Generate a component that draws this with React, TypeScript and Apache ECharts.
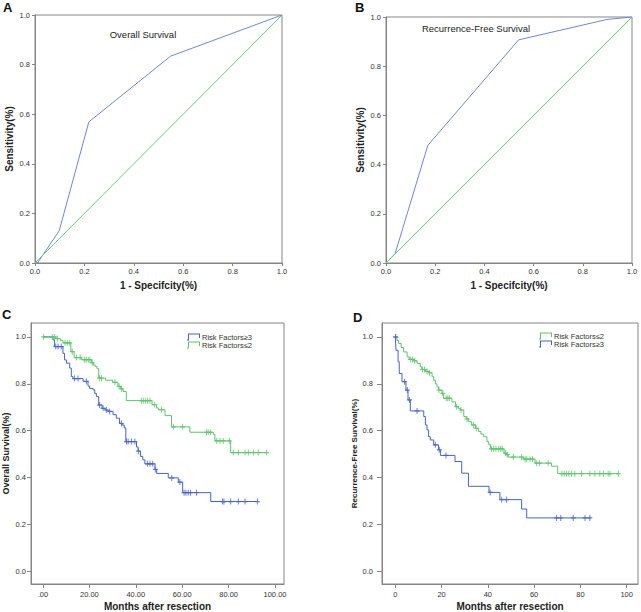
import React, { useEffect, useRef } from "react";
import * as echarts from "echarts";

// ROC curves
const rocOsFpr = [0, 0.01, 0.098, 0.218, 0.549, 1];
const rocOsTpr = [0, 0, 0.13, 0.569, 0.834, 1];
const rocRfsFpr = [0, 0.037, 0.17, 0.539, 0.898, 1];
const rocRfsTpr = [0, 0.038, 0.478, 0.907, 0.99, 1];
const refFpr = [0, 1];
const refTpr = [0, 1];
const rocTicks = [0, 0.2, 0.4, 0.6, 0.8, 1.0];

// Overall survival, Risk Factors>=3
const osHighT = [0, 4.3, 5.0, 8.6, 9.3, 10.1, 11.5, 12.2, 12.9, 17.3, 19.4, 20.1, 21.6, 22.3, 23.0, 24.0, 25.5, 26.8, 28.0, 30.2, 31.6, 33.0, 34.0, 35.0, 35.7, 40.3, 41.0, 42.0, 43.0, 43.9, 48.3, 49.0, 54.0, 58.3, 60.2, 72.3];
const osHighS = [1.0, 0.987, 0.959, 0.93, 0.902, 0.888, 0.867, 0.831, 0.822, 0.81, 0.79, 0.78, 0.774, 0.759, 0.745, 0.709, 0.695, 0.688, 0.682, 0.668, 0.653, 0.631, 0.624, 0.611, 0.553, 0.53, 0.512, 0.49, 0.475, 0.458, 0.434, 0.417, 0.398, 0.38, 0.335, 0.297];
const osHighEnd = 92.4;
const osHighCens = [5.5, 6.5, 7.9, 13.6, 15.1, 18.7, 24.4, 25.9, 27.3, 28.7, 33.8, 36.0, 36.7, 38.1, 39.6, 41.1, 45.0, 46.1, 47.3, 48.4, 55.5, 59.0, 60.8, 61.6, 62.6, 63.6, 66.2, 77.4, 78.0, 80.9, 84.2, 87.1, 92.4];

// Overall survival, Risk Factors<=2
const osLowT = [0, 5.5, 7.5, 8.6, 12.0, 13.4, 16.5, 20.8, 21.7, 22.5, 23.2, 24.0, 27.0, 30.0, 32.3, 33.5, 34.5, 35.9, 47.0, 48.9, 49.7, 52.6, 55.4, 63.3, 73.4, 74.1, 80.9];
const osLowS = [1.0, 0.993, 0.985, 0.975, 0.937, 0.912, 0.903, 0.89, 0.88, 0.874, 0.866, 0.824, 0.815, 0.806, 0.789, 0.778, 0.767, 0.728, 0.711, 0.697, 0.689, 0.664, 0.616, 0.593, 0.583, 0.556, 0.506];
const osLowEnd = 96.4;
const osLowCens = [0.2, 4.0, 5.0, 6.2, 9.5, 10.5, 11.5, 12.6, 14.4, 16.0, 17.8, 18.6, 19.5, 20.2, 21.2, 24.4, 25.2, 31.0, 32.8, 33.8, 42.4, 43.2, 44.1, 45.1, 46.1, 48.0, 51.1, 56.2, 60.2, 70.5, 71.2, 72.2, 74.9, 76.3, 77.7, 80.3, 82.0, 84.2, 87.1, 88.5, 90.7, 92.8, 96.4];

// Recurrence-free survival, Risk Factors<=2
const rfsLowT = [0, 0.7, 1.45, 2.5, 3.6, 5.1, 6.0, 8.0, 9.4, 10.8, 11.5, 13.0, 14.4, 15.9, 16.6, 17.3, 18.0, 18.7, 20.2, 20.9, 24.5, 26.0, 27.2, 28.1, 29.6, 30.6, 31.7, 33.0, 34.6, 36.0, 37.0, 38.2, 39.6, 40.4, 41.1, 47.0, 48.1, 48.8, 55.3, 60.4, 67.5, 70.2];
const rfsLowS = [1.0, 0.985, 0.972, 0.955, 0.936, 0.915, 0.904, 0.898, 0.887, 0.872, 0.861, 0.853, 0.847, 0.83, 0.815, 0.8, 0.787, 0.773, 0.759, 0.738, 0.723, 0.702, 0.695, 0.688, 0.66, 0.65, 0.638, 0.624, 0.61, 0.596, 0.585, 0.574, 0.553, 0.54, 0.522, 0.504, 0.497, 0.487, 0.478, 0.461, 0.448, 0.416];
const rfsLowEnd = 96.4;
const rfsLowCens = [0.2, 6.5, 7.4, 8.4, 11.8, 12.6, 13.7, 14.8, 18.9, 20.5, 22.0, 22.7, 23.4, 26.5, 28.4, 31.0, 33.8, 35.0, 41.6, 42.5, 43.5, 44.7, 45.5, 46.2, 47.6, 48.4, 51.0, 54.6, 56.1, 56.8, 58.2, 59.3, 61.1, 62.3, 66.1, 72.0, 73.0, 74.0, 75.0, 76.2, 77.6, 80.5, 84.1, 86.3, 88.4, 89.9, 92.0, 92.8, 96.4];

// Recurrence-free survival, Risk Factors>=3
const rfsHighT = [0, 0.3, 1.2, 1.7, 2.9, 4.6, 5.5, 6.5, 12.3, 13.0, 13.7, 14.4, 15.1, 16.6, 18.7, 19.5, 25.8, 28.7, 31.6, 40.5, 45.2, 54.6, 56.8];
const rfsHighS = [1.0, 0.943, 0.894, 0.844, 0.809, 0.773, 0.731, 0.684, 0.66, 0.624, 0.603, 0.574, 0.56, 0.539, 0.518, 0.494, 0.468, 0.418, 0.362, 0.336, 0.305, 0.265, 0.227];
const rfsHighEnd = 84.5;
const rfsHighCens = [0.1, 4.0, 5.2, 6.1, 9.4, 17.3, 19.0, 21.9, 41.0, 46.0, 48.1, 69.7, 71.5, 76.9, 82.0, 84.1];

const monthTicks = [0, 20, 40, 60, 80, 100];
const survTicks = [0, 0.2, 0.4, 0.6, 0.8, 1.0];

const NAME_HIGH = "Risk Factors≥3";
const NAME_LOW = "Risk Factors≤2";

const BLUE_ROC = "#6f86d6";
const GREEN_ROC = "#6cc77a";
const BLUE = "#4563c9";
const GREEN = "#5ec36b";
const BOX = "#858585";
const FONT = "Liberation Sans, Arial, sans-serif";

const PLUS = "path://M4,0H6V4H10V6H6V10H4V6H0V4H4Z";
const LEG_ICON = "path://M0,12H2V0H26V9H24V2H4V14H0Z";

function pairs(xs: number[], ys: number[]) {
  return xs.map((x, i) => [x, ys[i]]);
}
function kmData(T: number[], S: number[], end: number) {
  return pairs(T, S).concat([[end, S[S.length - 1]]]);
}
function survAt(T: number[], S: number[], t: number) {
  let v = S[0];
  for (let i = 0; i < T.length; i++) if (T[i] <= t) v = S[i];
  return v;
}
function censData(T: number[], S: number[], C: number[]) {
  return C.map((t) => [t, survAt(T, S, t)]);
}

const tickLabel = { fontSize: 7.5, color: "#333", fontFamily: FONT };
const axisTitle = { fontSize: 10, fontWeight: "bold" as const, color: "#222", fontFamily: FONT };

function rocX(gi: number) {
  return {
    type: "value", gridIndex: gi, min: 0, max: 1, interval: 0.2,
    name: "1 - Specifcity(%)", nameLocation: "middle", nameGap: 17, nameTextStyle: axisTitle,
    axisLine: { show: true, onZero: false, lineStyle: { color: BOX, width: 1 } },
    axisTick: { show: true, length: 3, lineStyle: { color: BOX } },
    axisLabel: { ...tickLabel, margin: 4, formatter: (v: number) => v.toFixed(1) },
    splitLine: { show: false },
  };
}
function rocY(gi: number) {
  return {
    type: "value", gridIndex: gi, min: 0, max: 1, interval: 0.2,
    name: "Sensitivity(%)", nameLocation: "middle", nameGap: 21, nameTextStyle: axisTitle,
    axisLine: { show: true, onZero: false, lineStyle: { color: BOX, width: 1 } },
    axisTick: { show: true, length: 3, lineStyle: { color: BOX } },
    axisLabel: { ...tickLabel, margin: 5, formatter: (v: number) => v.toFixed(1) },
    splitLine: { show: false },
  };
}
function kmX(gi: number, min: number, max: number, fmt: (v: number) => string) {
  return {
    type: "value", gridIndex: gi, min, max,
    name: "Months after resection", nameLocation: "middle", nameGap: 17, nameTextStyle: axisTitle,
    axisLine: { show: true, onZero: false, lineStyle: { color: BOX, width: 1 } },
    axisTick: { show: true, length: 4, customValues: monthTicks, lineStyle: { color: BOX } },
    axisLabel: { ...tickLabel, margin: 6, customValues: monthTicks, formatter: fmt },
    splitLine: { show: false },
  };
}
function kmY(gi: number, name: string, gap: number, size: number, tickLen: number, margin: number) {
  return {
    type: "value", gridIndex: gi, min: -0.0553, max: 1.0596,
    name, nameLocation: "middle", nameGap: gap, nameTextStyle: { ...axisTitle, fontSize: size },
    axisLine: { show: true, onZero: false, lineStyle: { color: BOX, width: 1 } },
    axisTick: { show: true, length: tickLen, customValues: survTicks, lineStyle: { color: BOX } },
    axisLabel: { ...tickLabel, margin, customValues: survTicks, formatter: (v: number) => v.toFixed(1) },
    splitLine: { show: false },
  };
}

function lineSeries(name: string, data: number[][], gi: number, color: string, step?: string) {
  return {
    type: "line", name, data, xAxisIndex: gi, yAxisIndex: gi,
    showSymbol: false, symbol: "none", step: step || false,
    color, lineStyle: { color, width: 1 }, itemStyle: { color },
    z: 3,
  };
}
function censSeries(name: string, data: number[][], gi: number, color: string) {
  return {
    type: "scatter", name, data, xAxisIndex: gi, yAxisIndex: gi,
    symbol: PLUS, symbolSize: [5, 6], itemStyle: { color }, z: 4,
  };
}

function legendOf(left: number, top: number, names: string[]) {
  return {
    left, top, orient: "vertical", itemGap: 0, itemWidth: 13, itemHeight: 7,
    selectedMode: false,
    data: names.map((n) => ({ name: n, icon: LEG_ICON })),
    itemStyle: { borderWidth: 0 },
    textStyle: { fontSize: 7.5, color: "#333", fontFamily: FONT, lineHeight: 8, padding: [0, 0, 0, -3] },
  };
}

export default function App() {
  const ref = useRef<HTMLDivElement>(null);
  useEffect(() => {
    if (!ref.current) return;
    const chart = echarts.init(ref.current, null, { renderer: "svg" });
    const grids = [
      { left: 35, top: 15, width: 247, height: 248 },
      { left: 386, top: 17, width: 246, height: 246 },
      { left: 31, top: 323, width: 253, height: 262 },
      { left: 382, top: 323, width: 256, height: 262 },
    ].map((g) => ({ ...g, show: true, borderColor: BOX, borderWidth: 1, backgroundColor: "transparent" }));

    const option: any = {
      animation: false,
      backgroundColor: "#ffffff",
      textStyle: { fontFamily: FONT },
      grid: grids,
      xAxis: [
        rocX(0),
        rocX(1),
        kmX(2, -5.17, 103.88, (v: number) => (v === 0 ? ".00" : v.toFixed(2))),
        kmX(3, -5.75, 104.9, (v: number) => String(v)),
      ],
      yAxis: [
        rocY(0),
        rocY(1),
        kmY(2, "Overall Survival(%)", 21, 9, 4, 5),
        kmY(3, "Recurrence-Free Survival(%)", 19, 8, 5, 9),
      ],
      legend: [
        legendOf(182, 328, [NAME_HIGH, NAME_LOW]),
        legendOf(534, 327, [NAME_LOW, NAME_HIGH]),
      ],
      series: [
        lineSeries("ROC OS", pairs(rocOsFpr, rocOsTpr), 0, BLUE_ROC),
        lineSeries("Reference OS", pairs(refFpr, refTpr), 0, GREEN_ROC),
        lineSeries("ROC RFS", pairs(rocRfsFpr, rocRfsTpr), 1, BLUE_ROC),
        lineSeries("Reference RFS", pairs(refFpr, refTpr), 1, GREEN_ROC),
        lineSeries(NAME_HIGH, kmData(osHighT, osHighS, osHighEnd), 2, BLUE, "end"),
        censSeries("OS ≥3 censored", censData(osHighT, osHighS, osHighCens), 2, BLUE),
        lineSeries(NAME_LOW, kmData(osLowT, osLowS, osLowEnd), 2, GREEN, "end"),
        censSeries("OS ≤2 censored", censData(osLowT, osLowS, osLowCens), 2, GREEN),
        lineSeries(NAME_LOW, kmData(rfsLowT, rfsLowS, rfsLowEnd), 3, GREEN, "end"),
        censSeries("RFS ≤2 censored", censData(rfsLowT, rfsLowS, rfsLowCens), 3, GREEN),
        lineSeries(NAME_HIGH, kmData(rfsHighT, rfsHighS, rfsHighEnd), 3, BLUE, "end"),
        censSeries("RFS ≥3 censored", censData(rfsHighT, rfsHighS, rfsHighCens), 3, BLUE),
      ],
      graphic: [
        { type: "text", left: 3, top: 1, style: { text: "A", fontSize: 13, fontWeight: "bold", fontFamily: FONT, fill: "#111" } },
        { type: "text", left: 355, top: 1, style: { text: "B", fontSize: 13, fontWeight: "bold", fontFamily: FONT, fill: "#111" } },
        { type: "text", left: 2, top: 308, style: { text: "C", fontSize: 13, fontWeight: "bold", fontFamily: FONT, fill: "#111" } },
        { type: "text", left: 353, top: 311, style: { text: "D", fontSize: 13, fontWeight: "bold", fontFamily: FONT, fill: "#111" } },
        { type: "text", x: 143, y: 34, style: { text: "Overall Survival", fontSize: 9.5, fontFamily: FONT, fill: "#222", align: "center", verticalAlign: "middle" } },
        { type: "text", x: 476, y: 28, style: { text: "Recurrence-Free Survival", fontSize: 9.5, fontFamily: FONT, fill: "#222", align: "center", verticalAlign: "middle" } },
      ],
    };
    chart.setOption(option);
    return () => chart.dispose();
  }, []);
  return <div ref={ref} style={{ position: "absolute", left: 0, top: 0, width: 641, height: 612 }} />;
}
